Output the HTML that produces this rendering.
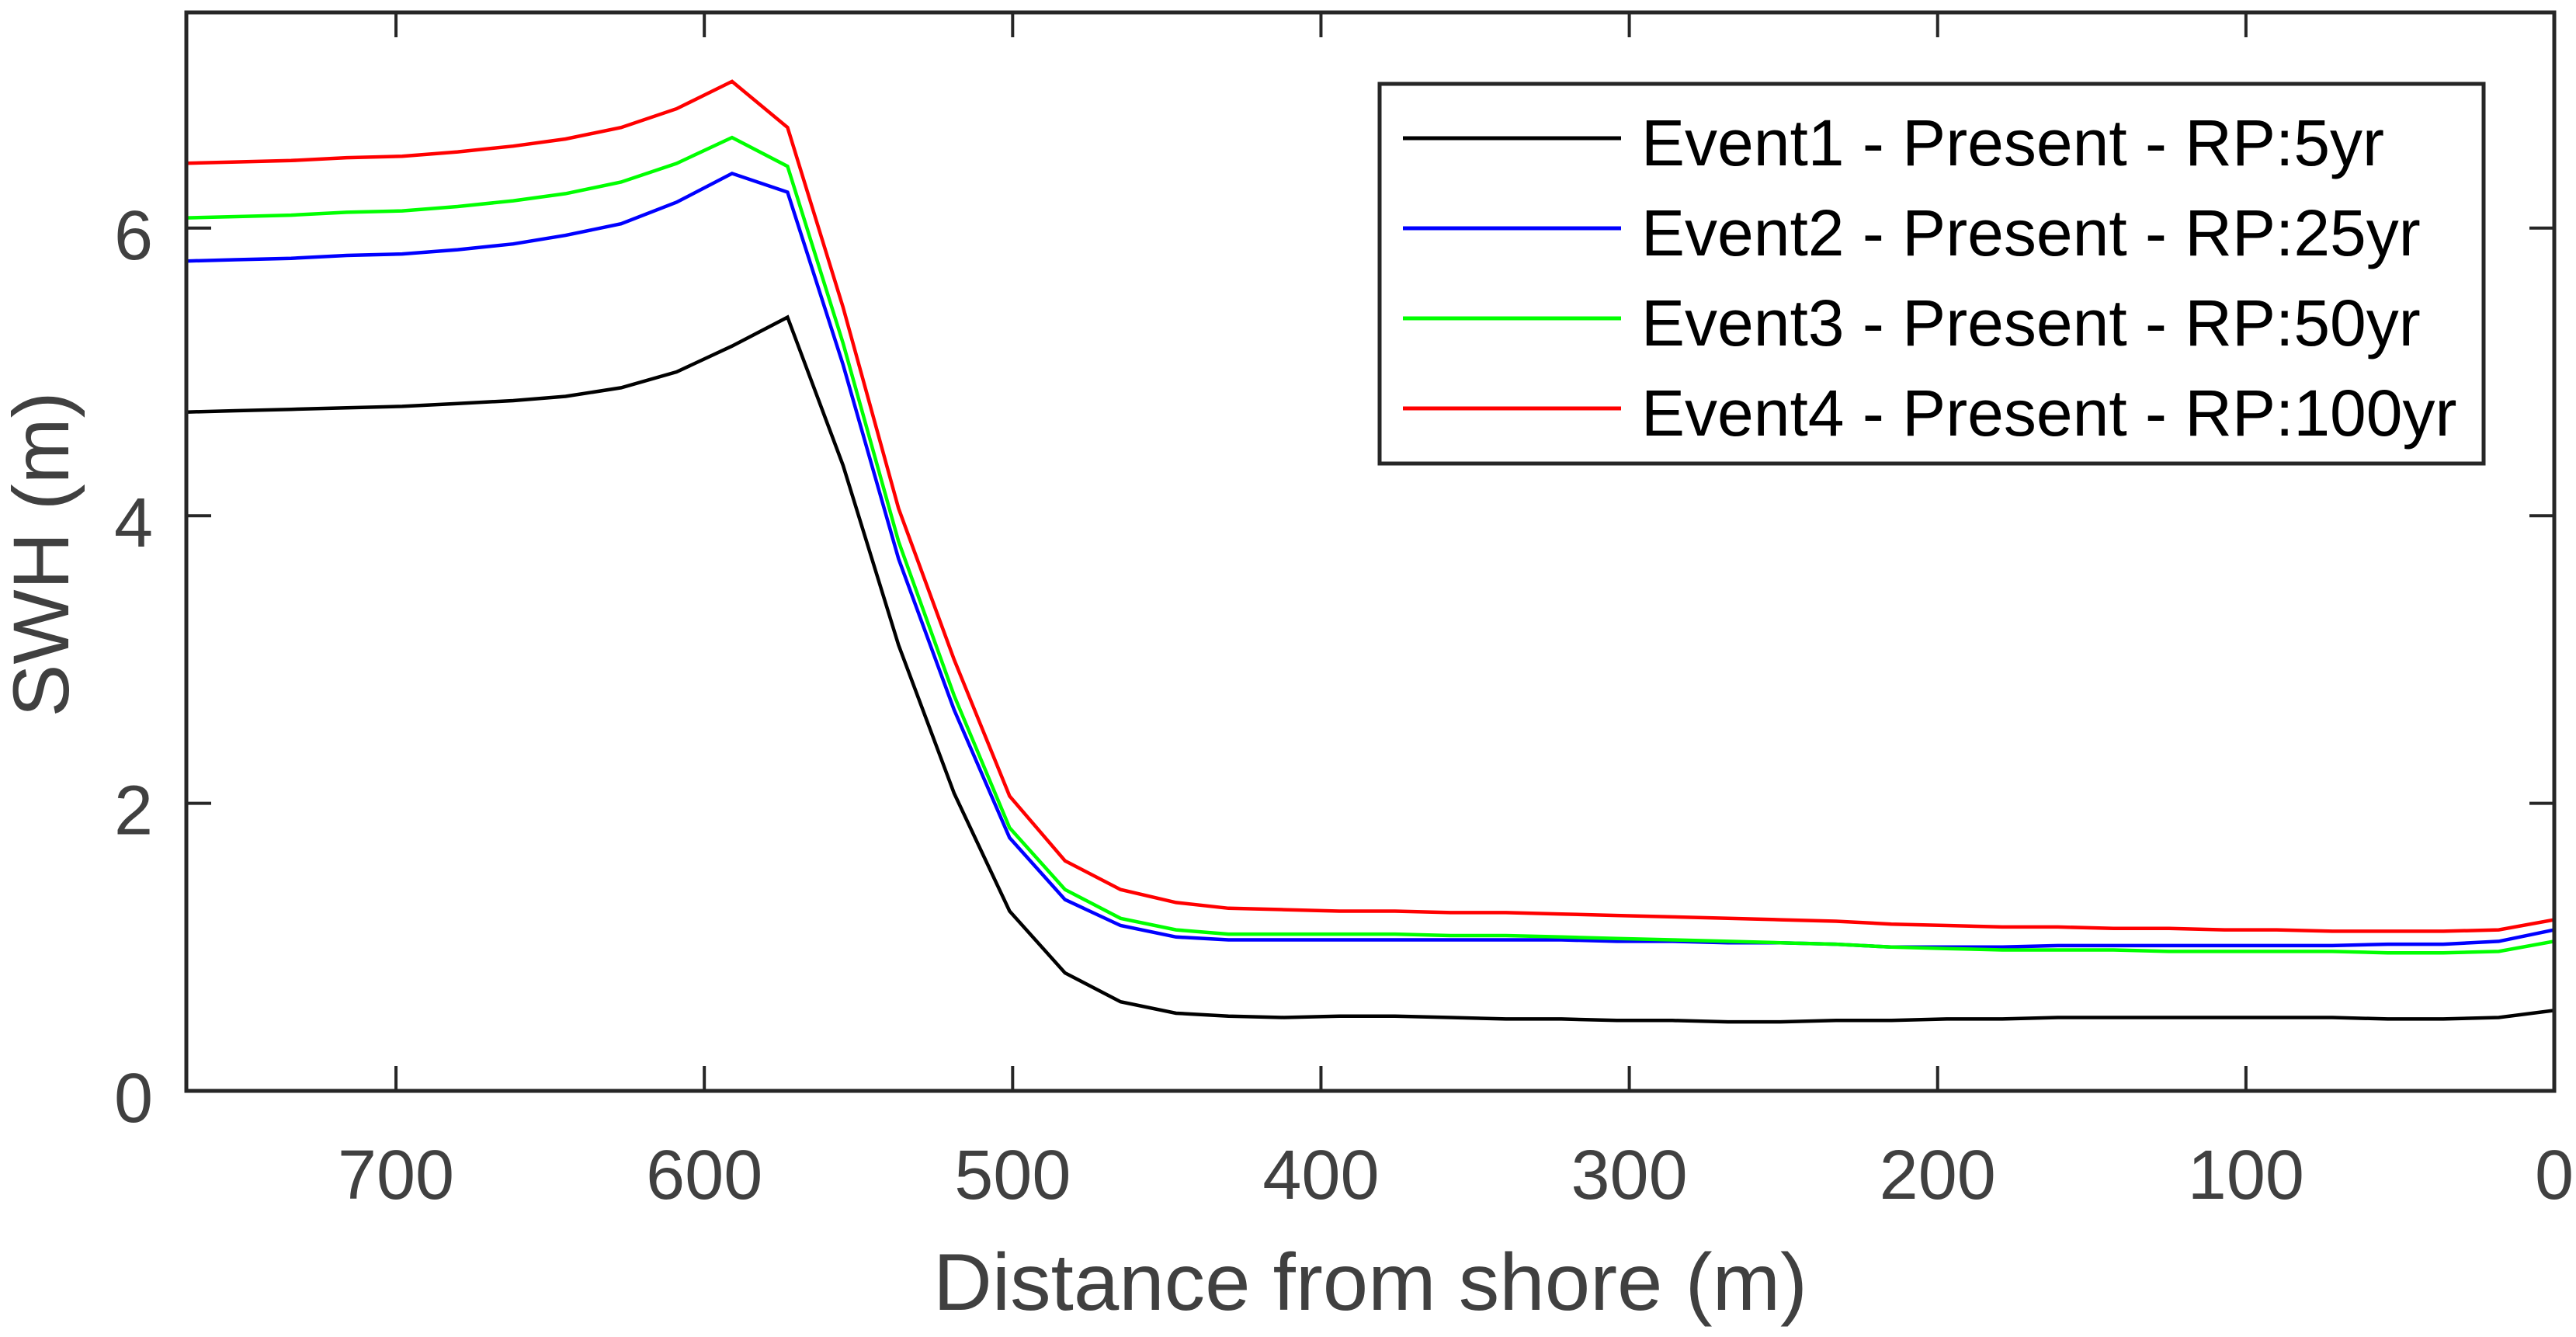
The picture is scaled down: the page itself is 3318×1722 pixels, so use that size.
<!DOCTYPE html>
<html><head><meta charset="utf-8"><style>
html,body{margin:0;padding:0;background:#fff;width:3318px;height:1722px;overflow:hidden}
svg{display:block}
</style></head><body>
<svg id="chart" width="3318" height="1722" viewBox="0 0 3318 1722" xmlns="http://www.w3.org/2000/svg" font-family="'Liberation Sans', Arial, sans-serif">
<defs><clipPath id="plotclip"><rect x="240" y="16" width="3050" height="1389"/></clipPath></defs>
<rect width="3318" height="1722" fill="#fff"/>
<g id="series" clip-path="url(#plotclip)"></g>
<g id="axes"></g>
<text x="1765" y="1687" text-anchor="middle" font-size="104" fill="#404040" textLength="1126" lengthAdjust="spacingAndGlyphs">Distance from shore (m)</text>
<text transform="translate(88,714) rotate(-90)" text-anchor="middle" font-size="102" fill="#404040">SWH (m)</text>
<g id="legend"></g>
</svg>
<script>
const distances = [770,752,734,716,698,680,662,645,627,609,591,573,555,537,519,501,483,465,447,430,412,394,376,358,340,322,304,286,268,251,233,215,197,179,161,143,125,107,90,72,54,36,18,0];
const event1 = [4.72,4.73,4.74,4.75,4.76,4.78,4.80,4.83,4.89,5.00,5.18,5.38,4.35,3.10,2.07,1.25,0.82,0.62,0.54,0.52,0.51,0.52,0.52,0.51,0.50,0.50,0.49,0.49,0.48,0.48,0.49,0.49,0.50,0.50,0.51,0.51,0.51,0.51,0.51,0.51,0.50,0.50,0.51,0.56];
const event2 = [5.77,5.78,5.79,5.81,5.82,5.85,5.89,5.95,6.03,6.18,6.38,6.25,5.05,3.70,2.65,1.76,1.33,1.15,1.07,1.05,1.05,1.05,1.05,1.05,1.05,1.05,1.04,1.04,1.03,1.03,1.02,1.00,1.00,1.00,1.01,1.01,1.01,1.01,1.01,1.01,1.02,1.02,1.04,1.12];
const event3 = [6.07,6.08,6.09,6.11,6.12,6.15,6.19,6.24,6.32,6.45,6.63,6.43,5.20,3.82,2.75,1.83,1.40,1.20,1.12,1.09,1.09,1.09,1.09,1.08,1.08,1.07,1.06,1.05,1.04,1.03,1.02,1.00,0.99,0.98,0.98,0.98,0.97,0.97,0.97,0.97,0.96,0.96,0.97,1.04];
const event4 = [6.45,6.46,6.47,6.49,6.50,6.53,6.57,6.62,6.70,6.83,7.02,6.70,5.45,4.05,3.00,2.05,1.60,1.40,1.31,1.27,1.26,1.25,1.25,1.24,1.24,1.23,1.22,1.21,1.20,1.19,1.18,1.16,1.15,1.14,1.14,1.13,1.13,1.12,1.12,1.11,1.11,1.11,1.12,1.19];
const seriesNames = ["Event1 - Present - RP:5yr","Event2 - Present - RP:25yr","Event3 - Present - RP:50yr","Event4 - Present - RP:100yr"];
const seriesColors = ["#000000","#0000ff","#00ff00","#ff0000"];
const xTicks = [700,600,500,400,300,200,100,0];
const yTicks = [0,2,4,6];

const NS = "http://www.w3.org/2000/svg";
const L=240,R=3290,T=16,B=1405, XMIN=768, XMAX=0, YMIN=0, YMAX=7.5;
function xs(v){return L+(XMIN-v)/(XMIN-XMAX)*(R-L);}
function ys(v){return B-(v-YMIN)/(YMAX-YMIN)*(B-T);}
function mk(tag,attrs,parent){const e=document.createElementNS(NS,tag);for(const k in attrs)e.setAttribute(k,attrs[k]);parent.appendChild(e);return e;}

const sg=document.getElementById('series');
[event1,event2,event3,event4].forEach((arr,i)=>{
  const pts=arr.map((v,j)=>xs(distances[j]).toFixed(1)+','+ys(v).toFixed(1)).join(' ');
  const p=mk('polyline',{points:pts,fill:'none',stroke:seriesColors[i],'stroke-width':4.5,'stroke-linejoin':'miter'},sg);
  
  
});

const ax=document.getElementById('axes');
const box=mk('rect',{x:L,y:T,width:R-L,height:B-T,fill:'none',stroke:'#262626','stroke-width':5},ax);


xTicks.forEach(t=>{
  const x=xs(t);
  mk('line',{x1:x,y1:B,x2:x,y2:B-32,stroke:'#262626','stroke-width':4},ax);
  mk('line',{x1:x,y1:T,x2:x,y2:T+32,stroke:'#262626','stroke-width':4},ax);
  const tx=mk('text',{x:x,y:1544,'text-anchor':'middle','font-size':90,fill:'#404040'},ax);
  tx.textContent=String(t);
  
  
});
yTicks.forEach(t=>{
  const y=ys(t);
  mk('line',{x1:L,y1:y,x2:L+32,y2:y,stroke:'#262626','stroke-width':4},ax);
  mk('line',{x1:R,y1:y,x2:R-32,y2:y,stroke:'#262626','stroke-width':4},ax);
  const tx=mk('text',{x:197,y:y+40,'text-anchor':'end','font-size':90,fill:'#404040'},ax);
  tx.textContent=String(t);
  
  
});

const lg=document.getElementById('legend');
const lb=mk('rect',{x:1777,y:108,width:1422,height:489,fill:'#fff',stroke:'#262626','stroke-width':5},lg);


seriesNames.forEach((n,i)=>{
  const y=178+i*116;
  const g=mk('g',{},lg);
  
  
  mk('line',{x1:1807,y1:y,x2:2088,y2:y,stroke:seriesColors[i],'stroke-width':5},g);
  const t=mk('text',{x:2114,y:y+35,'font-size':84,fill:'#000'},g);
  t.textContent=n;
});
</script>
</body></html>
